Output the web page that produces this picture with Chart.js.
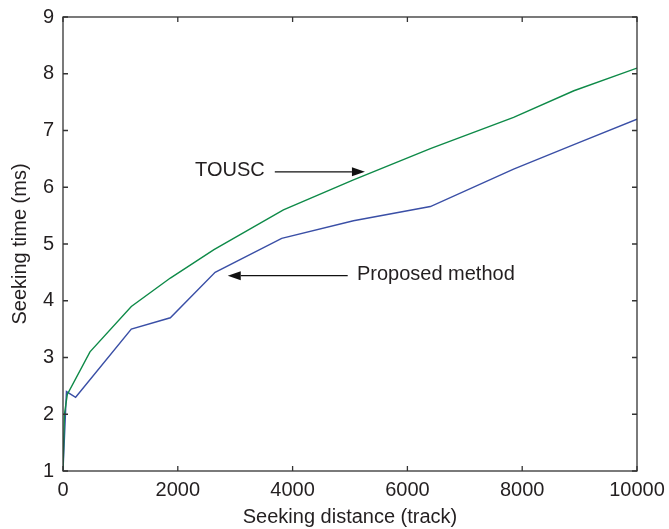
<!DOCTYPE html>
<html>
<head>
<meta charset="utf-8">
<script src="https://cdn.jsdelivr.net/npm/chart.js@4/dist/chart.umd.min.js"></script>
<style>
html,body{margin:0;padding:0;background:#fff;}
#wrap{width:669px;height:529px;}
</style>
</head>
<body>
<div id="wrap"><canvas id="c" width="669" height="529"></canvas></div>
<script>
// ---- data ----
const touscX = [0, 25, 75, 470, 1190, 1870, 2630, 3840, 5060, 6400, 7850, 8900, 10000];
const touscY = [1, 2.0, 2.35, 3.1, 3.9, 4.4, 4.9, 5.6, 6.13, 6.68, 7.23, 7.7, 8.1];
const proposedX = [0, 60, 220, 1190, 1870, 2650, 3810, 5060, 6400, 7850, 8900, 10000];
const proposedY = [1, 2.4, 2.3, 3.5, 3.7, 4.5, 5.1, 5.41, 5.66, 6.32, 6.75, 7.2];
const xTicks = [0, 2000, 4000, 6000, 8000, 10000];
const yTicks = [1, 2, 3, 4, 5, 6, 7, 8, 9];
const seriesNames = ['TOUSC', 'Proposed method'];
const xTitle = 'Seeking distance (track)';
const yTitle = 'Seeking time (ms)';
// annotations in data coordinates: label, text x, y, arrow from x, arrow to x
const notes = [
  {label: 'TOUSC', tx: 2300, y: 6.29, ax0: 3690, ax1: 5260},
  {label: 'Proposed method', tx: 5120, y: 4.46, ax0: 4960, ax1: 2870}
];

const FONT = '"Liberation Sans", Arial, Helvetica, sans-serif';
const TXT = '#231f20';

const frame = {
  id: 'frame',
  afterDatasetsDraw(chart) {
    const {ctx, chartArea: a, scales: {x, y}} = chart;
    ctx.save();
    ctx.strokeStyle = '#333';
    ctx.lineWidth = 1.3;
    ctx.strokeRect(a.left, a.top, a.right - a.left, a.bottom - a.top);
    const tl = 5;
    ctx.beginPath();
    xTicks.forEach(v => {
      const px = x.getPixelForValue(v);
      ctx.moveTo(px, a.bottom); ctx.lineTo(px, a.bottom - tl);
      ctx.moveTo(px, a.top); ctx.lineTo(px, a.top + tl);
    });
    yTicks.forEach(v => {
      const py = y.getPixelForValue(v);
      ctx.moveTo(a.left, py); ctx.lineTo(a.left + tl, py);
      ctx.moveTo(a.right, py); ctx.lineTo(a.right - tl, py);
    });
    ctx.stroke();
    // annotations
    ctx.font = '20px ' + FONT;
    ctx.fillStyle = TXT;
    ctx.strokeStyle = '#111';
    ctx.lineWidth = 1.3;
    ctx.textBaseline = 'middle';
    ctx.textAlign = 'left';
    notes.forEach(n => {
      const py = y.getPixelForValue(n.y);
      ctx.fillText(n.label, x.getPixelForValue(n.tx), py);
      const x0 = x.getPixelForValue(n.ax0), x1 = x.getPixelForValue(n.ax1);
      const dir = Math.sign(x1 - x0);
      const hl = 13, hw = 4.5;
      ctx.beginPath();
      ctx.moveTo(x0, py + 1); ctx.lineTo(x1 - dir * hl, py + 1);
      ctx.stroke();
      ctx.beginPath();
      ctx.moveTo(x1, py + 1);
      ctx.lineTo(x1 - dir * hl, py + 1 - hw);
      ctx.lineTo(x1 - dir * hl, py + 1 + hw);
      ctx.closePath();
      ctx.fillStyle = '#111';
      ctx.fill();
      ctx.fillStyle = TXT;
    });
    ctx.restore();
  }
};

new Chart(document.getElementById('c'), {
  type: 'line',
  data: {
    datasets: [
      {label: seriesNames[0], data: touscX.map((v, i) => ({x: v, y: touscY[i]})),
       borderColor: '#0e8a48', borderWidth: 1.4, pointRadius: 0, tension: 0, fill: false},
      {label: seriesNames[1], data: proposedX.map((v, i) => ({x: v, y: proposedY[i]})),
       borderColor: '#3a4fa6', borderWidth: 1.4, pointRadius: 0, tension: 0, fill: false}
    ]
  },
  options: {
    responsive: false,
    animation: false,
    layout: {padding: {top: 17, right: 32, left: 0, bottom: 0}},
    plugins: {legend: {display: false}, tooltip: {enabled: false}},
    scales: {
      x: {
        type: 'linear', min: 0, max: 10000,
        afterBuildTicks: s => { s.ticks = xTicks.map(v => ({value: v})); },
        afterFit: s => { s.height = 58; s.paddingLeft = 0; s.paddingRight = 0; },
        grid: {display: false, drawTicks: false},
        border: {display: false},
        ticks: {padding: 7, color: TXT, font: {family: FONT, size: 20}, maxRotation: 0, autoSkip: false,
                callback: v => String(v)},
        title: {display: true, text: xTitle, color: TXT, font: {family: FONT, size: 20}, padding: {top: 0, bottom: 0}}
      },
      y: {
        type: 'linear', min: 1, max: 9,
        afterBuildTicks: s => { s.ticks = yTicks.map(v => ({value: v})); },
        afterFit: s => { s.width = 63; s.paddingTop = 0; s.paddingBottom = 0; },
        grid: {display: false, drawTicks: false},
        border: {display: false},
        ticks: {padding: 9, color: TXT, font: {family: FONT, size: 20}, autoSkip: false,
                callback: v => String(v)},
        title: {display: true, text: yTitle, color: TXT, font: {family: FONT, size: 20}, padding: {top: 8, bottom: 0}}
      }
    }
  },
  plugins: [frame]
});
</script>
</body>
</html>
